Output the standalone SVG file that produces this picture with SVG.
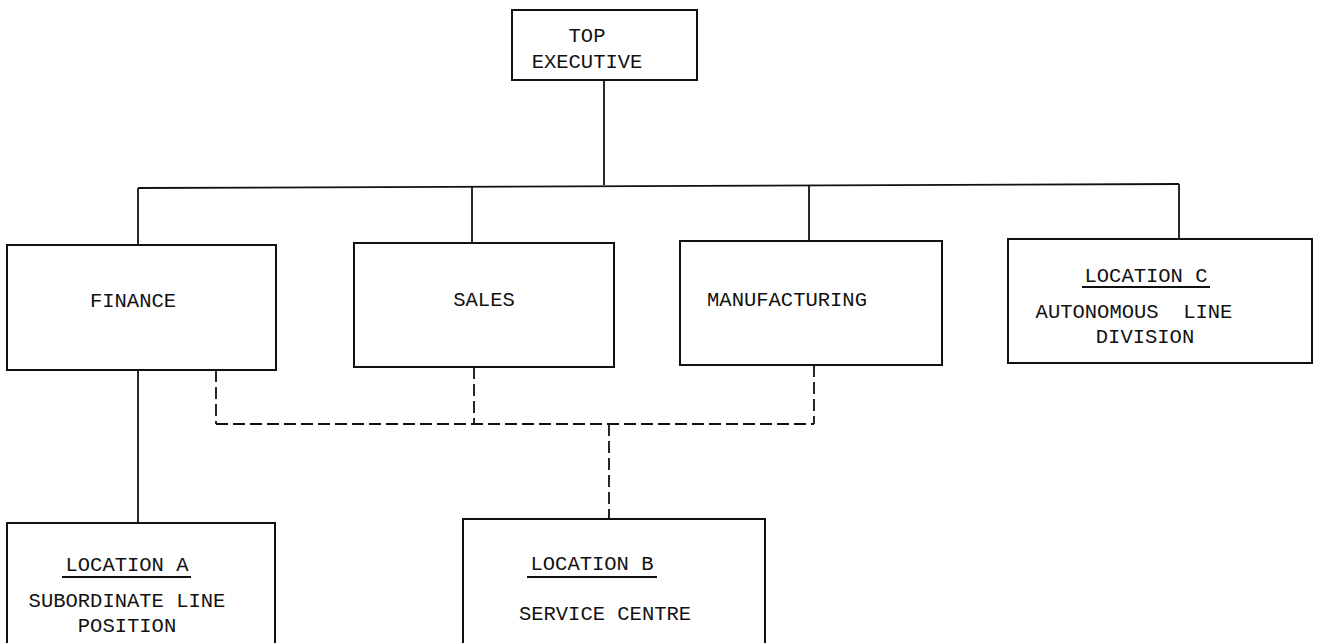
<svg xmlns="http://www.w3.org/2000/svg" width="1320" height="643" viewBox="0 0 1320 643">
<style>
.box{fill:#fff;stroke:#111;stroke-width:2}
.ln{fill:none;stroke:#111;stroke-width:1.8}
.dash{fill:none;stroke:#111;stroke-width:1.8;stroke-dasharray:12 5}
.t{font-family:"Liberation Mono","Courier New",monospace;font-size:20.5px;fill:#111;text-anchor:middle}
.ul{stroke:#111;stroke-width:2}
</style>
<rect width="1320" height="643" fill="#fff"/>
<g id="connectors">
<line class="ln" x1="604" y1="80" x2="604" y2="185"/>
<polyline class="ln" points="138,188 1179,184"/>
<line class="ln" x1="138" y1="188" x2="138" y2="245"/>
<line class="ln" x1="472" y1="186" x2="472" y2="243"/>
<line class="ln" x1="809" y1="185" x2="809" y2="241"/>
<line class="ln" x1="1179" y1="184" x2="1179" y2="239"/>
<line class="ln" x1="138" y1="370" x2="138" y2="523"/>
<line class="dash" x1="216" y1="370" x2="216" y2="424"/>
<line class="dash" x1="474" y1="367" x2="474" y2="424"/>
<line class="dash" x1="814" y1="365" x2="814" y2="424"/>
<line class="dash" x1="216" y1="424" x2="814" y2="424"/>
<line class="dash" x1="609" y1="424" x2="609" y2="519"/>
</g>
<g id="top-executive">
<rect class="box" x="512" y="10" width="185" height="70"/>
<text class="t" x="587" y="42">TOP</text>
<text class="t" x="587" y="68">EXECUTIVE</text>
</g>
<g id="finance">
<rect class="box" x="7" y="245" width="269" height="125"/>
<text class="t" x="133" y="307">FINANCE</text>
</g>
<g id="sales">
<rect class="box" x="354" y="243" width="260" height="124"/>
<text class="t" x="484" y="306">SALES</text>
</g>
<g id="manufacturing">
<rect class="box" x="680" y="241" width="262" height="124"/>
<text class="t" x="787" y="306">MANUFACTURING</text>
</g>
<g id="location-c">
<rect class="box" x="1008" y="239" width="304" height="124"/>
<text class="t" x="1146" y="282">LOCATION C</text>
<line class="ul" x1="1082" y1="287" x2="1210" y2="287"/>
<text class="t" x="1134" y="318" xml:space="preserve">AUTONOMOUS  LINE</text>
<text class="t" x="1145" y="343">DIVISION</text>
</g>
<g id="location-a">
<rect class="box" x="7" y="523" width="268" height="130"/>
<text class="t" x="127" y="571">LOCATION A</text>
<line class="ul" x1="62" y1="577" x2="191" y2="577"/>
<text class="t" x="127" y="607">SUBORDINATE LINE</text>
<text class="t" x="127" y="632">POSITION</text>
</g>
<g id="location-b">
<rect class="box" x="463" y="519" width="302" height="134"/>
<text class="t" x="592" y="570">LOCATION B</text>
<line class="ul" x1="527" y1="577" x2="657" y2="577"/>
<text class="t" x="605" y="620">SERVICE CENTRE</text>
</g>
</svg>
